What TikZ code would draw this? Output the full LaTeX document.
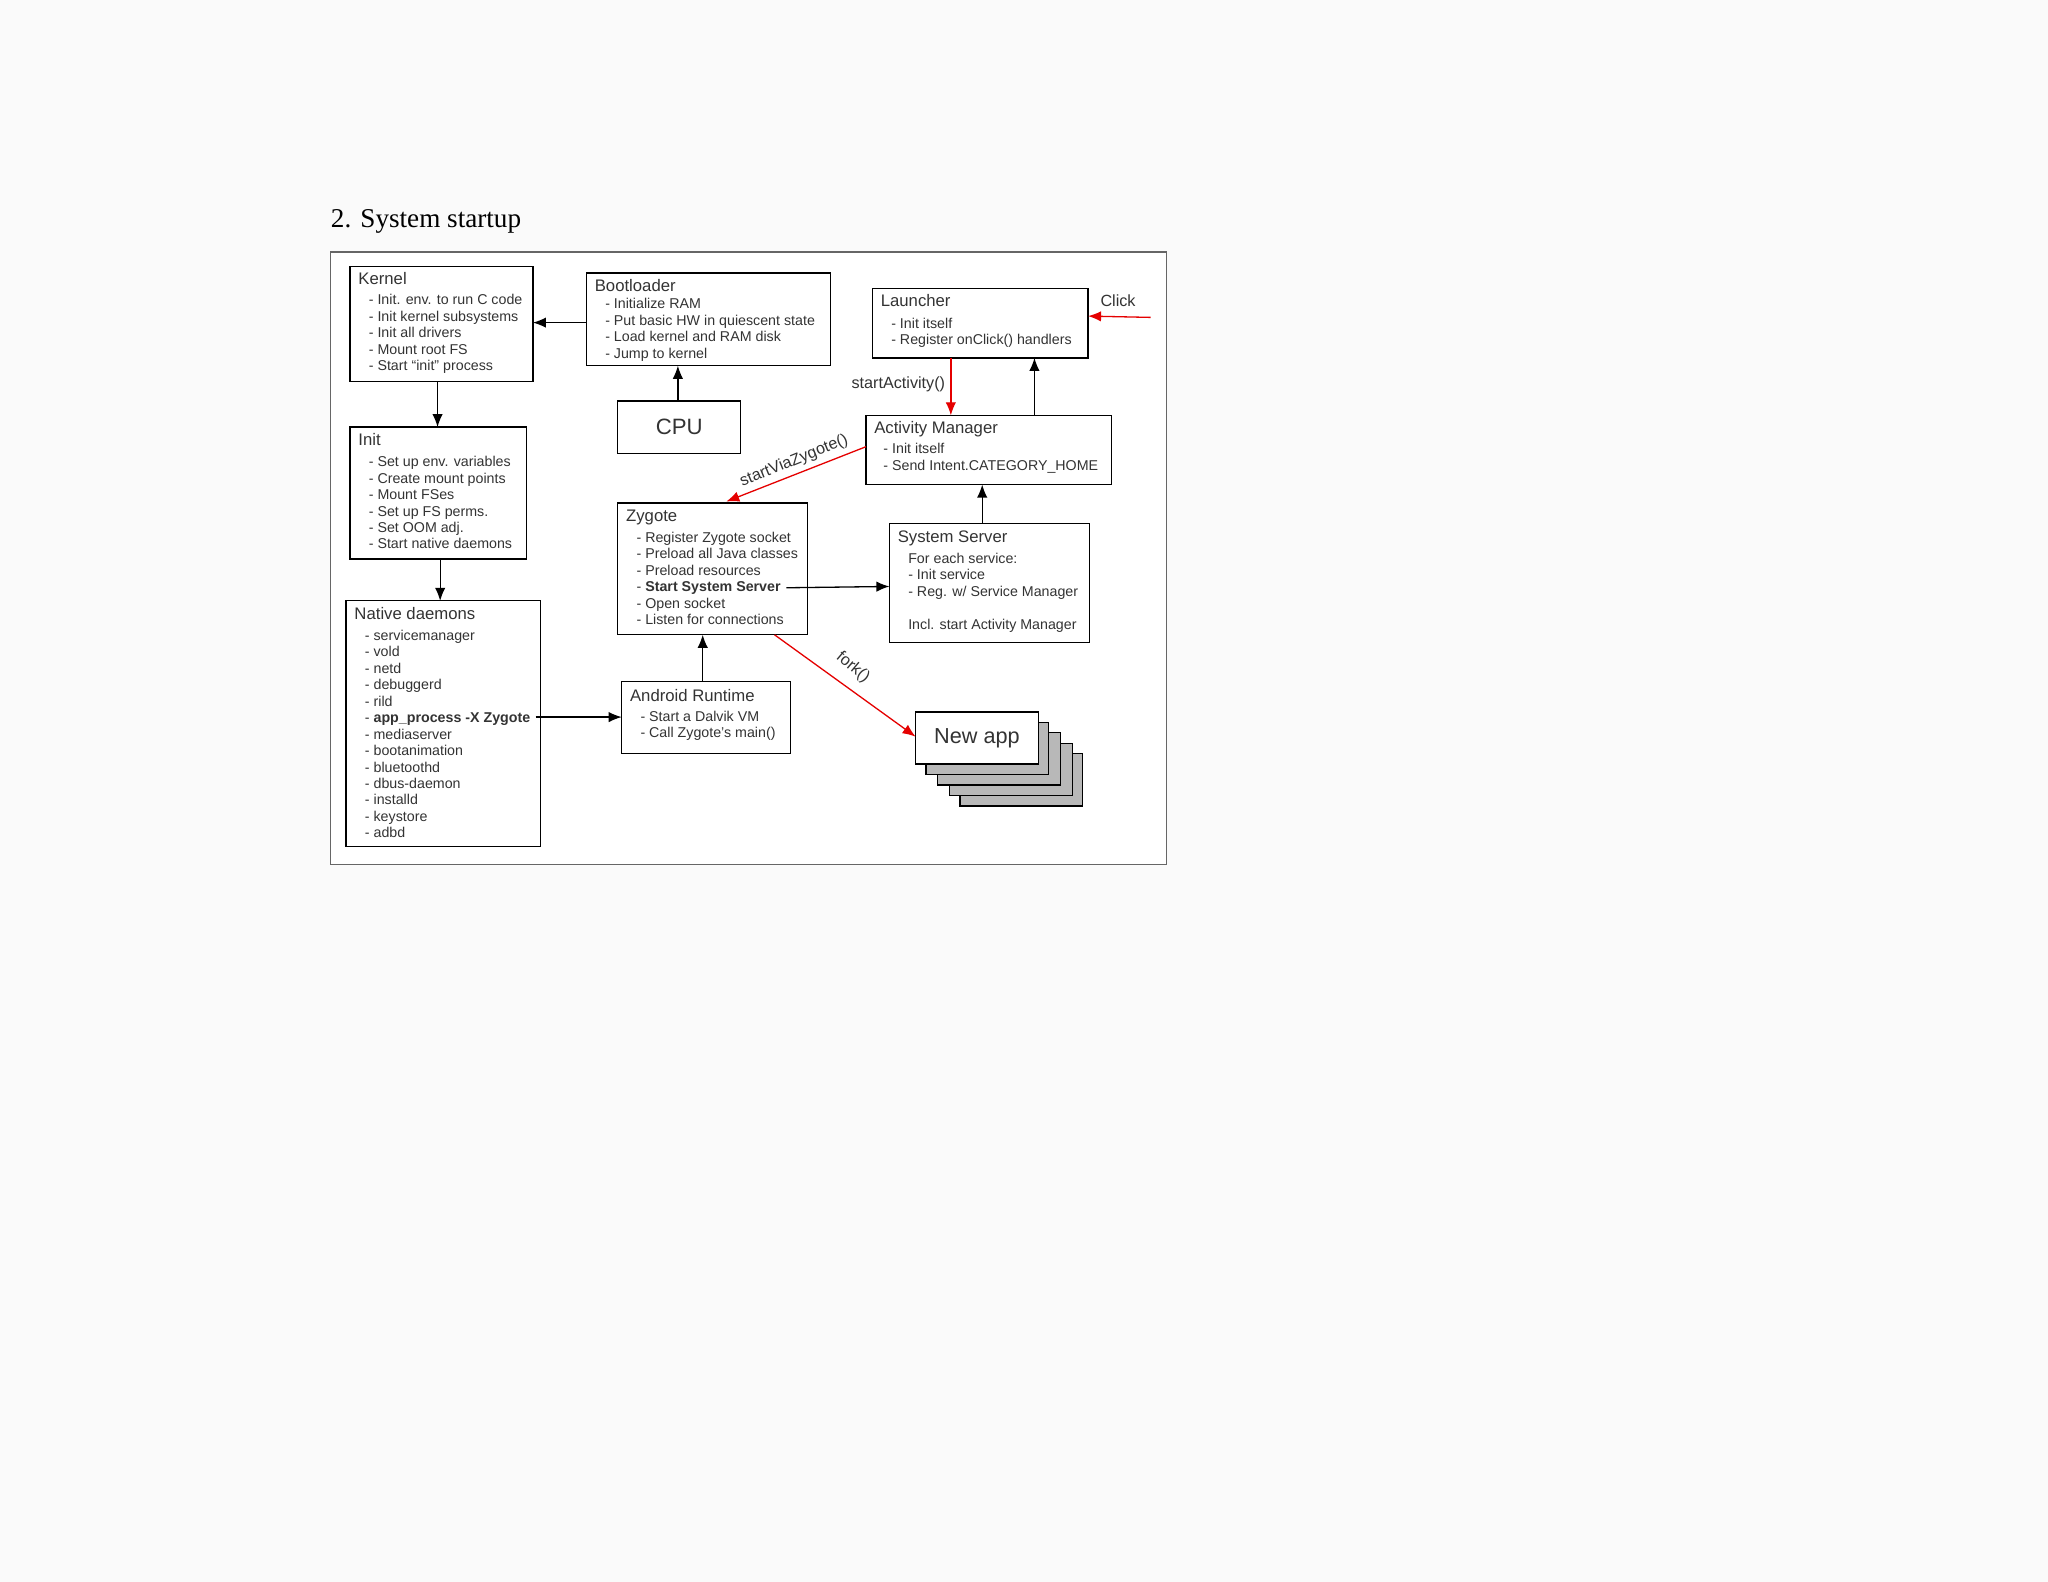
\documentclass[tikz,border=0pt]{standalone}
\usepackage{fontspec}
\setmainfont{Liberation Sans}
\newfontfamily\titlefont{Liberation Serif}
\usetikzlibrary{arrows.meta}
\begin{document}
\begin{tikzpicture}[x=0.5pt,y=-0.5pt,
  box/.style={draw,line width=0.5pt,fill=white},
  ttl/.style={anchor=base west,font=\fontsize{6.4}{7}\selectfont,text=black!80,inner sep=0},
  body/.style={anchor=north west,font=\fontsize{5.45}{6.3}\selectfont,text=black!80,inner sep=0,align=left},
  arr/.style={line width=0.5pt,-{Latex[length=5pt,width=4pt]}},
  rarr/.style={line width=0.5pt,red!90!black,-{Latex[length=5pt,width=4pt]}},
  lbl/.style={font=\fontsize{6.2}{7}\selectfont,text=black!80,inner sep=0}]
\fill[white!98!black] (0,0) rectangle (1568,1211);
\useasboundingbox (0,0) rectangle (1568,1211);
\node[anchor=base west,inner sep=0,font=\titlefont\fontsize{10.4}{12}\selectfont] (title) at (253,174) {2. System startup};
\draw[black!60,line width=0.5pt,fill=white] (253,193) rectangle (893,662);
% boxes
\draw[box] (268,204) rectangle (408,292);
\node[ttl] (kt) at (274,218) {Kernel};
\node[body] (kb) at (282,225) {- Init. env. to run C code\\- Init kernel subsystems\\- Init all drivers\\- Mount root FS\\- Start ``init'' process};
\draw[box] (449,209) rectangle (636,280);
\node[ttl] (bt) at (455,223) {Bootloader};
\node[body] (bb) at (463,228) {- Initialize RAM\\- Put basic HW in quiescent state\\- Load kernel and RAM disk\\- Jump to kernel};
\draw[box] (473,307) rectangle (567,347);
\node[inner sep=0,font=\fontsize{8.5}{10}\selectfont,text=black!80] (cpu) at (520,327) {CPU};
\draw[box] (668,221) rectangle (833,274);
\node[ttl] (lt) at (674,235) {Launcher};
\node[body] (lb) at (682,243) {- Init itself\\- Register onClick() handlers};
\draw[box] (663,318) rectangle (851,371);
\node[ttl] (at) at (669,332) {Activity Manager};
\node[body] (ab) at (676,339) {- Init itself\\- Send Intent.CATEGORY\_HOME};
\draw[box] (268,327) rectangle (403,428);
\node[ttl] (it) at (274,341) {Init};
\node[body] (ib) at (282,349) {- Set up env. variables\\- Create mount points\\- Mount FSes\\- Set up FS perms.\\- Set OOM adj.\\- Start native daemons};
\draw[box] (473,385) rectangle (618,486);
\node[ttl] (zt) at (479,399) {Zygote};
\node[body] (zb) at (487,407) {- Register Zygote socket\\- Preload all Java classes\\- Preload resources\\- \textbf{Start System Server}\\- Open socket\\- Listen for connections};
\draw[box] (681,401) rectangle (834,492);
\node[ttl] (st) at (687,415) {System Server};
\node[body] (sb) at (695,423) {For each service:\\- Init service\\- Reg. w/ Service Manager\\[6.3pt]Incl. start Activity Manager};
\draw[box] (265,460) rectangle (414,648);
\node[ttl] (nt) at (271,474) {Native daemons};
\node[body] (nb) at (279,482) {- servicemanager\\- vold\\- netd\\- debuggerd\\- rild\\- \textbf{app\_process -X Zygote}\\- mediaserver\\- bootanimation\\- bluetoothd\\- dbus-daemon\\- installd\\- keystore\\- adbd};
\draw[box] (476,522) rectangle (605,577);
\node[ttl] (rt) at (482,537) {Android Runtime};
\node[body] (rb) at (490,544) {- Start a Dalvik VM\\- Call Zygote's main()};
% new app stack
\foreach \d/\e in {34/32,26/24,17/16,8/8}
  \draw[line width=0.5pt,fill=black!28] (701+\d,545+\e) rectangle (795+\d,585+\e);
\draw[box] (701,545) rectangle (795,585);
\node[inner sep=0,font=\fontsize{8.3}{10}\selectfont,text=black!80] (newapp) at (748,565) {New app};
% connectors
\coordinate (b1) at (449,247); \coordinate (k1) at (408,247);
\draw[arr] (b1) -- (k1);
\coordinate (c1) at (519,307); \coordinate (b2) at (519,280);
\draw[arr] (c1) -- (b2);
\coordinate (k2) at (335,292); \coordinate (i1) at (335,327);
\draw[arr] (k2) -- (i1);
\coordinate (i2) at (337,428); \coordinate (n1) at (337,460);
\draw[arr] (i2) -- (n1);
\coordinate (n2) at (410,549); \coordinate (r1) at (476,549);
\draw[arr] (n2) -- (r1);
\coordinate (r2) at (538,522); \coordinate (z1) at (538,486);
\draw[arr] (r2) -- (z1);
\coordinate (z2) at (602,450); \coordinate (s1) at (681,449);
\draw[arr] (z2) -- (s1);
\coordinate (s2) at (752,401); \coordinate (a1) at (752,371);
\draw[arr] (s2) -- (a1);
\coordinate (a2) at (792,318); \coordinate (l1) at (792,274);
\draw[arr] (a2) -- (l1);
\coordinate (l2) at (728,274); \coordinate (a3) at (728,318);
\draw[rarr] (l2) -- (a3);
\node[lbl,anchor=east] (sa) at (724,294) {startActivity()};
\coordinate (a4) at (663,342); \coordinate (z3) at (556,384);
\draw[rarr] (a4) -- (z3);
\node[lbl,rotate=22] (svz) at (608,353) {startViaZygote()};
\coordinate (z4) at (593,486); \coordinate (na) at (701,564);
\draw[rarr] (z4) -- (na);
\node[lbl,rotate=-40] (fk) at (653,511) {fork()};
\coordinate (cl) at (881,243); \coordinate (l3) at (833,242);
\draw[rarr] (cl) -- (l3);
\node[lbl] (click) at (856,230) {Click};
\end{tikzpicture}
\end{document}
